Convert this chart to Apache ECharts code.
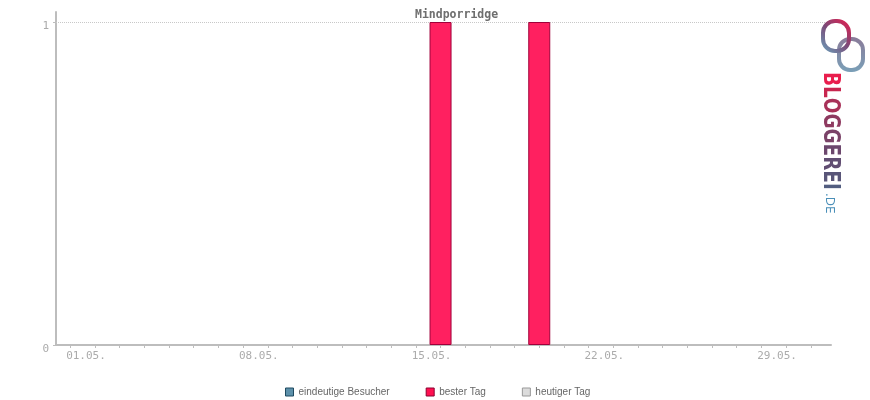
<!DOCTYPE html>
<html>
<head>
<meta charset="utf-8">
<script src="https://cdn.jsdelivr.net/npm/echarts@6/dist/echarts.min.js"></script>
<style>html,body{margin:0;padding:0;background:#fff}#c{width:870px;height:400px}</style>
</head>
<body>
<div id="c"></div>
<script>
// ---- data ----
var chartTitle = 'Mindporridge';
var legendNames = ['eindeutige Besucher', 'bester Tag', 'heutiger Tag'];
var besterTagDays = [15, 19];          // day of May
var besterTagValues = [1, 1];
var besucherDays = [];
var besucherValues = [];
var heuteDays = [];
var heuteValues = [];
var tickDays = [0,1,2,3,4,5,6,7,8,9,10,11,12,13,14,15,16,17,18,19,20,21,22,23,24,25,26,27,28,29,30];
var labelDays = [1, 8, 15, 22, 29];
var yTicks = [0, 1];
var monthLabel = '05';

function pairs(xs, ys) { return xs.map(function (x, i) { return [x, ys[i]]; }); }
function dayLabel(d) { var s = String(Math.round(d)); if (s.length < 2) s = '0' + s; return s + '.' + monthLabel + '.'; }

var chart = echarts.init(document.getElementById('c'), null, {renderer: 'canvas'});
var axisGray = '#bdbdbd';
var mono = '"DejaVu Sans Mono", monospace';

// logo lettering, coloured letter by letter (red -> purple -> slate)
var logoLetters = ['B','L','O','G','G','E','R','E','I'];
var logoColors = ['#e91e4d','#c8264f','#a83158','#8e3a60','#7a4267','#6c476d','#614d72','#595578','#525d80'];
var logoRich = {};
var logoText = logoLetters.map(function (ch, i) {
  logoRich['l' + i] = {fill: logoColors[i], font: 'bold 23px "DejaVu Sans", sans-serif'};
  return '{l' + i + '|' + ch + '}';
}).join('');

var bubbleGrad = new echarts.graphic.LinearGradient(1, 0, 0, 1, [
  {offset: 0, color: '#f0184a'},
  {offset: 0.5, color: '#7a4a78'},
  {offset: 1, color: '#6aa8c0'}
]);
var bubble2Grad = new echarts.graphic.LinearGradient(0, 0, 0, 1, [
  {offset: 0, color: '#8a7a98'},
  {offset: 1, color: '#7aa0b8'}
]);

chart.setOption({
  animation: false,
  title: {
    text: chartTitle,
    left: 410, top: 4,
    textStyle: {fontFamily: mono, fontSize: 11.5, fontWeight: 'bold', color: '#6e6e6e'}
  },
  legend: {
    data: [
      {name: legendNames[0], itemStyle: {color: '#5c90aa', borderColor: '#1f4a60', borderWidth: 1}},
      {name: legendNames[1], itemStyle: {color: '#ff1050', borderColor: '#8a0030', borderWidth: 1}},
      {name: legendNames[2], itemStyle: {color: '#dcdcdc', borderColor: '#999999', borderWidth: 1}}
    ],
    left: 280, top: 382,
    icon: 'rect', itemWidth: 8, itemHeight: 8, itemGap: 36,
    selectedMode: false,
    textStyle: {fontFamily: '"Liberation Sans", Arial, sans-serif', fontSize: 10, color: '#666'}
  },
  grid: {left: 56, right: 39, top: 12, bottom: 55, containLabel: false},
  xAxis: {
    type: 'value', min: -0.58, max: 30.82,
    axisLine: {show: true, lineStyle: {color: axisGray, width: 2}},
    axisTick: {show: true, customValues: tickDays, length: 3, lineStyle: {color: axisGray, width: 1}},
    axisLabel: {
      customValues: labelDays, formatter: dayLabel, margin: 6,
      fontFamily: mono, fontSize: 11, color: '#ababab', padding: [0, 18, 0, 0]
    },
    splitLine: {show: false}
  },
  yAxis: {
    type: 'value', min: 0, max: 1.031,
    axisLine: {show: true, onZero: false, lineStyle: {color: axisGray, width: 2}},
    axisTick: {show: true, customValues: yTicks, length: 3, lineStyle: {color: axisGray, width: 1}},
    axisLabel: {customValues: yTicks, margin: 7, fontFamily: mono, fontSize: 11, color: '#ababab',
      verticalAlign: 'top', padding: [-1, 0, 0, 0]},
    splitLine: {show: false}
  },
  series: [
    {name: legendNames[0], type: 'bar', data: pairs(besucherDays, besucherValues), barWidth: 22, z: 1,
     itemStyle: {color: '#5c90aa', borderColor: '#1f4a60', borderWidth: 1},
     markLine: {silent: true, symbol: 'none', label: {show: false}, z: 1,
       lineStyle: {color: '#c8c8c8', type: 'dotted', width: 1},
       data: [{yAxis: yTicks[1]}]}},
    {name: legendNames[1], type: 'bar', data: pairs(besterTagDays, besterTagValues), barWidth: 22, barGap: '-100%', z: 3,
     itemStyle: {color: '#ff2060', borderColor: '#a0003a', borderWidth: 1}},
    {name: legendNames[2], type: 'bar', data: pairs(heuteDays, heuteValues), barWidth: 22, barGap: '-100%', z: 3,
     itemStyle: {color: '#dcdcdc', borderColor: '#999999', borderWidth: 1}}
  ],
  graphic: [
    {type: 'rect', shape: {x: 823, y: 21, width: 26, height: 30, r: 12},
     style: {fill: 'none', stroke: bubbleGrad, lineWidth: 4}, z: 10},
    {type: 'rect', shape: {x: 839, y: 39, width: 24, height: 31, r: 11},
     style: {fill: 'none', stroke: bubble2Grad, lineWidth: 4}, z: 9},
    {type: 'text', x: 830, y: 72, rotation: -Math.PI / 2, scaleX: 0.8,
     style: {text: logoText, rich: logoRich, font: 'bold 23px "DejaVu Sans", sans-serif',
       textAlign: 'left', textVerticalAlign: 'middle'}, z: 10},
    {type: 'text', x: 829, y: 193, rotation: -Math.PI / 2,
     style: {text: '.DE', font: '12px "DejaVu Sans", sans-serif', fill: '#4a8fb8',
       textAlign: 'left', textVerticalAlign: 'middle'}, z: 10}
  ]
});
</script>
</body>
</html>
